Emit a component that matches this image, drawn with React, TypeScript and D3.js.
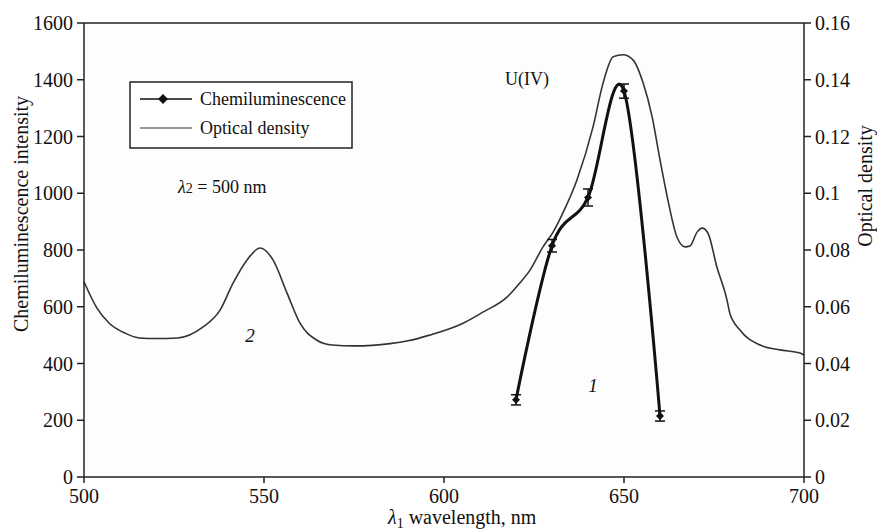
import React from "react";
import * as d3 from "d3";

// Optical density curve (U(IV) absorption spectrum)
const odWavelength = [500, 503.6, 507, 511.4, 515.5, 520, 526, 533, 537.8, 541.4, 545.3, 548.9, 552.5, 556.4, 560, 564.7, 569, 575, 580, 585, 590, 596, 605.3, 610.8, 617.5, 621, 623.9, 627.5, 630.3, 633, 636.9, 641.4, 644.2, 647, 649.7, 652.5, 655.3, 657.8, 660, 662.2, 664.7, 667, 668.3, 670.3, 671.7, 673.3, 675.8, 678.6, 679.4, 682.2, 687.8, 693.3, 698.9, 700];
const odValue = [0.0688, 0.0595, 0.0542, 0.0507, 0.049, 0.0488, 0.049, 0.0528, 0.0588, 0.0683, 0.0765, 0.0807, 0.0765, 0.0648, 0.0542, 0.0482, 0.0465, 0.0462, 0.0464, 0.047, 0.048, 0.05, 0.0542, 0.0581, 0.0634, 0.0683, 0.0729, 0.0811, 0.0863, 0.093, 0.1046, 0.1234, 0.1389, 0.1481, 0.1488, 0.147, 0.1389, 0.127, 0.1118, 0.0976, 0.0846, 0.0811, 0.0814, 0.0863, 0.0877, 0.086, 0.074, 0.0624, 0.0577, 0.0518, 0.0465, 0.0448, 0.0437, 0.043];

// Chemiluminescence series
const clWavelength = [620, 630, 640, 650, 660];
const clValue = [272, 815, 985, 1360, 215];
const clError = [18, 22, 30, 25, 18];

const xTicks = [500, 550, 600, 650, 700];
const yLeftTicks = [0, 200, 400, 600, 800, 1000, 1200, 1400, 1600];
const yRightTicks = [0, 0.02, 0.04, 0.06, 0.08, 0.1, 0.12, 0.14, 0.16];

const W = 877, H = 530;
const L = 84, R = 804, T = 23, B = 477;
const FONT = '"Liberation Serif", "Times New Roman", Times, serif';
const INK = "#222";

export default function App() {
  const x = d3.scaleLinear().domain([500, 700]).range([L, R]);
  const yL = d3.scaleLinear().domain([0, 1600]).range([B, T]);
  const yR = d3.scaleLinear().domain([0, 0.16]).range([B, T]);

  const odLine = d3.line<number>()
    .x((_, i) => x(odWavelength[i]))
    .y((d) => yR(d))
    .curve(d3.curveMonotoneX)(odValue) || "";

  const clLine = d3.line<number>()
    .x((_, i) => x(clWavelength[i]))
    .y((d) => yL(d))
    .curve(d3.curveCatmullRom.alpha(0))(clValue) || "";

  const diamond = (cx: number, cy: number, r: number) =>
    `M${cx},${cy - r}L${cx + r},${cy}L${cx},${cy + r}L${cx - r},${cy}Z`;

  const ts = { fontFamily: FONT } as React.CSSProperties;

  return (
    <svg width={W} height={H} style={{ position: "absolute", left: 0, top: 0, background: "#fff", fontFamily: FONT }}>
      <rect x={L} y={T} width={R - L} height={B - T} fill="#fdfdfd" />
      {/* OD curve */}
      <path d={odLine} fill="none" stroke="#333" strokeWidth={1.6} />
      {/* CL curve */}
      <path d={clLine} fill="none" stroke="#111" strokeWidth={3} />
      {clWavelength.map((w, i) => {
        const cx = x(w), cy = yL(clValue[i]);
        const t = yL(clValue[i] + clError[i]), b = yL(clValue[i] - clError[i]);
        return (
          <g key={i}>
            <line x1={cx} x2={cx} y1={t} y2={b} stroke="#111" strokeWidth={1.5} />
            <line x1={cx - 5} x2={cx + 5} y1={t} y2={t} stroke="#111" strokeWidth={1.5} />
            <line x1={cx - 5} x2={cx + 5} y1={b} y2={b} stroke="#111" strokeWidth={1.5} />
            <path d={diamond(cx, cy, 4)} fill="#111" />
          </g>
        );
      })}

      {/* frame */}
      <line x1={L} x2={R} y1={T} y2={T} stroke={INK} strokeWidth={1.5} />
      <line x1={L} x2={R} y1={B} y2={B} stroke={INK} strokeWidth={1.5} />
      <line x1={L} x2={L} y1={T} y2={B} stroke={INK} strokeWidth={1.5} />
      <line x1={R} x2={R} y1={T} y2={B} stroke={INK} strokeWidth={1.5} />

      {/* left axis */}
      {yLeftTicks.map((v) => (
        <g key={"l" + v}>
          <line x1={L - 7} x2={L} y1={yL(v)} y2={yL(v)} stroke={INK} strokeWidth={1.5} />
          <text style={ts} x={L - 11} y={yL(v)} dy="0.35em" textAnchor="end" fontSize={20} fill="#111">{v}</text>
        </g>
      ))}
      {/* right axis */}
      {yRightTicks.map((v) => (
        <g key={"r" + v}>
          <line x1={R} x2={R + 7} y1={yR(v)} y2={yR(v)} stroke={INK} strokeWidth={1.5} />
          <text style={ts} x={R + 11} y={yR(v)} dy="0.35em" textAnchor="start" fontSize={20} fill="#111">{d3.format("~g")(v)}</text>
        </g>
      ))}
      {/* bottom axis */}
      {xTicks.map((v) => (
        <g key={"b" + v}>
          <line x1={x(v)} x2={x(v)} y1={B} y2={B + 6} stroke={INK} strokeWidth={1.5} />
          <text style={ts} x={x(v)} y={503} textAnchor="middle" fontSize={20} fill="#111">{v}</text>
        </g>
      ))}

      {/* axis titles */}
      <text style={ts} x={388} y={524} fontSize={20} fill="#111">
        <tspan fontStyle="italic">λ</tspan>
        <tspan fontSize={14} dy={4}>1</tspan>
        <tspan dy={-4}> wavelength, nm</tspan>
      </text>
      <text style={ts} transform={`translate(28,214) rotate(-90)`} textAnchor="middle" fontSize={20} fill="#111">Chemiluminescence intensity</text>
      <text style={ts} transform={`translate(872,186) rotate(-90)`} textAnchor="middle" fontSize={20} fill="#111">Optical density</text>

      {/* legend */}
      <rect x={130} y={82} width={222} height={66} fill="#fff" stroke={INK} strokeWidth={1.5} />
      <line x1={140} x2={192} y1={99} y2={99} stroke="#111" strokeWidth={1.6} />
      <path d={diamond(163, 99, 5)} fill="#111" />
      <text style={ts} x={200} y={105} fontSize={18} fill="#111">Chemiluminescence</text>
      <line x1={140} x2={192} y1={128} y2={128} stroke="#333" strokeWidth={1.2} />
      <text style={ts} x={200} y={134} fontSize={18} fill="#111">Optical density</text>

      {/* annotations */}
      <text style={ts} x={505} y={85} fontSize={18} fill="#111">U(IV)</text>
      <text style={ts} x={178} y={193} fontSize={18} fill="#111">
        <tspan fontStyle="italic">λ</tspan>
        <tspan fontSize={14}>2</tspan>
        <tspan> = 500 nm</tspan>
      </text>
      <text style={ts} x={250} y={335} dy="0.35em" textAnchor="middle" fontSize={19} fontStyle="italic" fill="#111">2</text>
      <text style={ts} x={593} y={385} dy="0.35em" textAnchor="middle" fontSize={19} fontStyle="italic" fill="#111">1</text>
    </svg>
  );
}
